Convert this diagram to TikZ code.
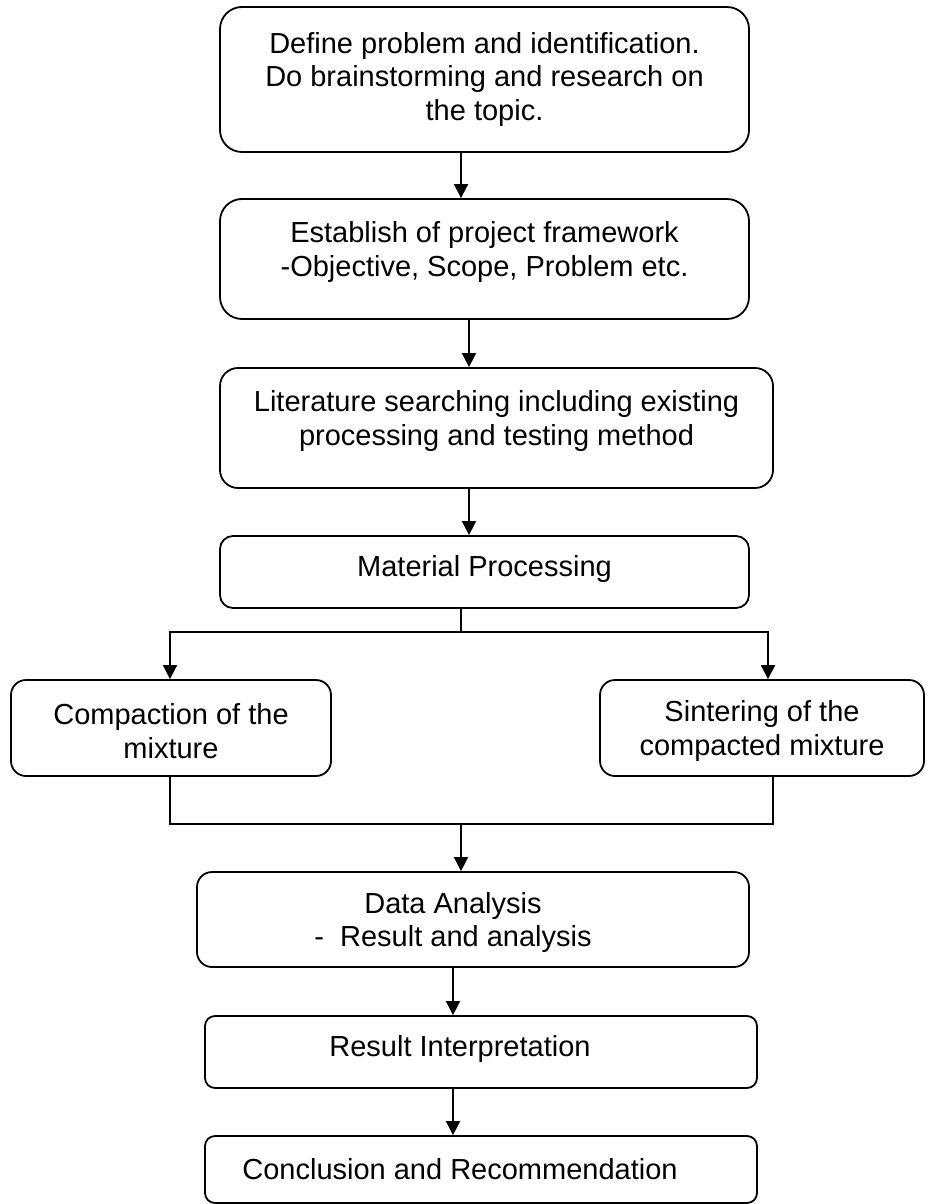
\documentclass[tikz,border=0pt]{standalone}
\usepackage{fontspec}
\setmainfont{Liberation Sans}
\usetikzlibrary{arrows.meta}

\begin{document}
\begin{tikzpicture}[x=1pt,y=-1pt,->,>={Triangle[length=14pt,width=14pt]},line width=1.8pt]
	\tikzstyle{every node}=[font=\fontsize{29}{33.5}\selectfont,align=center]
	\tikzstyle{stage}=[draw,inner sep=0pt]
	\useasboundingbox (0,0) rectangle (926,1204);

	\node[stage,minimum width=529pt,minimum height=145pt,rounded corners=22pt,
	      label={center:Define problem and identification.\\Do brainstorming and research on\\the topic.}] (A) at (484.5,79.5) {};
	\node[stage,minimum width=529pt,minimum height=120pt,rounded corners=22pt,
	      label={[yshift=7pt]center:Establish of project framework\\-Objective, Scope, Problem etc.}] (B) at (484.5,259) {};
	\node[stage,minimum width=553pt,minimum height=120pt,rounded corners=18pt,
	      label={[yshift=7pt]center:Literature searching including existing\\processing and testing method}] (C) at (496.5,428) {};
	\node[stage,minimum width=529pt,minimum height=72pt,rounded corners=13pt,
	      label={[yshift=3pt]center:Material Processing}] (D) at (484.5,572) {};
	\node[stage,minimum width=320pt,minimum height=96pt,rounded corners=15pt,
	      label={[yshift=-3pt]center:Compaction of the\\mixture}] (E) at (171,728) {};
	\node[stage,minimum width=324pt,minimum height=96pt,rounded corners=15pt,
	      label={[yshift=-3pt]center:Sintering of the\\compacted mixture}] (F) at (762,728) {};
	\node[stage,minimum width=552pt,minimum height=95pt,rounded corners=15pt,
	      label={[xshift=-20pt,yshift=-3pt]center:Data Analysis\\-\ \ Result and analysis}] (G) at (473,919.5) {};
	\node[stage,minimum width=552pt,minimum height=72pt,rounded corners=10pt,
	      label={[xshift=-21pt,yshift=3pt]center:Result Interpretation}] (H) at (481,1052) {};
	\node[stage,minimum width=552pt,minimum height=67pt,rounded corners=10pt,
	      label={[xshift=-21pt]center:Conclusion and Recommendation}] (I) at (481,1169.5) {};

	\coordinate (t1) at (461,0);
	\coordinate (t2) at (469,0);
	\coordinate (t3) at (453,0);
	\coordinate (split) at (461,632);
	\coordinate (merge) at (461,824);

	\path (A.south -| t1) edge (B.north -| t1)
	      (B.south -| t2) edge (C.north -| t2)
	      (C.south -| t2) edge (D.north -| t2);

	% split into the two branches
	\draw[-] (D.south -| split) -- (split);
	\draw (split) -| ([xshift=-1pt]E.north);
	\draw (split) -| ([xshift=6pt]F.north);

	% join them again
	\draw[-] ([xshift=-1pt]E.south) |- (merge) -| ([xshift=11pt]F.south);
	\draw (merge) -- (G.north -| merge);

	\path (G.south -| t3) edge (H.north -| t3)
	      (H.south -| t3) edge (I.north -| t3);
\end{tikzpicture}
\end{document}
